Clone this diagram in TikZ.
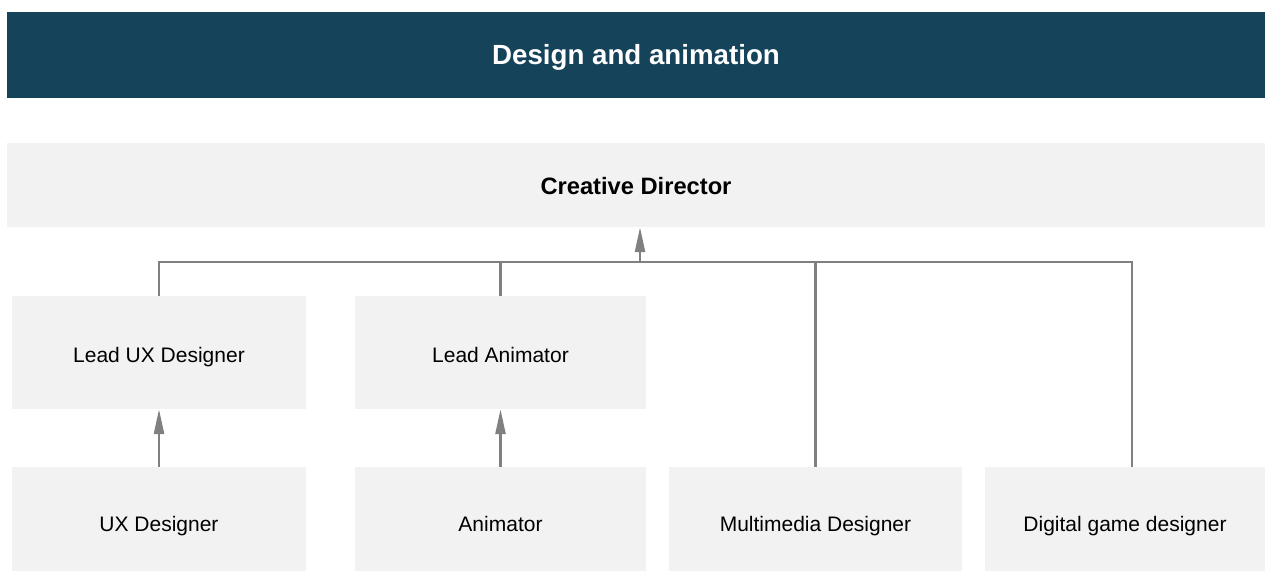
\documentclass[tikz,border=0pt]{standalone}
\usepackage{fontspec}
\setmainfont{Liberation Sans}
\usetikzlibrary{arrows.meta, positioning}
\definecolor{petrol}{HTML}{15435A}
\definecolor{panel}{HTML}{F2F2F2}
\definecolor{linegray}{HTML}{808080}

\begin{document}
\begin{tikzpicture}[x=1pt, y=-1pt,
  box/.style={fill=panel, inner sep=0pt, align=center, text height=19.5pt, text depth=0pt, font=\fontsize{21}{25}\selectfont},
  lowbox/.style={box, minimum height=104pt, text height=25pt},
  link/.style={draw=linegray, line width=2.5pt},
  up/.style={link, -{Triangle[length=25pt, width=10pt]}}]
  \useasboundingbox (0,0) rectangle (1272,572);
  \node[fill=petrol, text=white, inner sep=0pt, text height=20pt, text depth=0pt, minimum width=1258pt, minimum height=86pt, font=\fontsize{27.7}{32}\selectfont\bfseries] (title) at (636,55) {Design and animation};
  \node[box, minimum width=1258pt, minimum height=84pt, text height=18.6pt, font=\fontsize{23.7}{28}\selectfont\bfseries] (cd) at (636,185) {Creative Director};
  \node[box, minimum width=294pt, minimum height=113pt] (leadux) at (159,352.5) {Lead UX Designer};
  \node[box, minimum width=291pt, minimum height=113pt] (leadanim) at (500.5,352.5) {Lead Animator};
  \node[lowbox, minimum width=294pt] (ux) at (159,519) {UX Designer};
  \node[lowbox, minimum width=291pt] (anim) at (500.5,519) {Animator};
  \node[lowbox, minimum width=293pt] (multi) at (815.5,519) {Multimedia Designer};
  \node[lowbox, minimum width=280pt] (game) at (1125,519) {Digital game designer};
  \coordinate (hub) at (640,262);
  \foreach \n in {leadux, leadanim, multi} \draw[link] (\n.north) |- (hub);
  \draw[link] ([xshift=7pt]game.north) |- (hub);
  \draw[up] (hub) -- (hub |- cd.south);
  \foreach \a/\b in {ux/leadux, anim/leadanim} \draw[up] (\a) -- (\b);
\end{tikzpicture}
\end{document}
